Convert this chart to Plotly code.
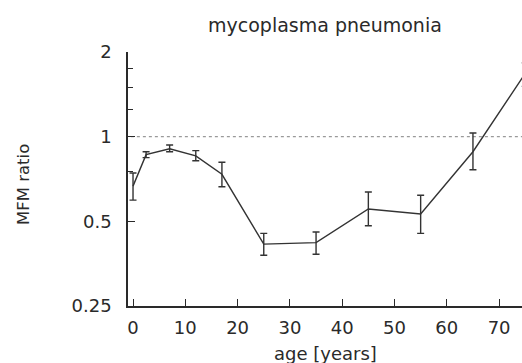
import plotly.graph_objects as go

ages = [0, 2.5, 7, 12, 17, 25, 35, 45, 55, 65, 75]
mfm_ratio = [0.667, 0.863, 0.906, 0.854, 0.735, 0.415, 0.420, 0.553, 0.531, 0.884, 1.68]
err_plus = [0.076, 0.021, 0.028, 0.038, 0.076, 0.038, 0.038, 0.083, 0.088, 0.146, 0.15]
err_minus = [0.072, 0.021, 0.022, 0.033, 0.071, 0.036, 0.038, 0.071, 0.078, 0.121, 0.17]

x_ticks = [0, 10, 20, 30, 40, 50, 60, 70]
y_ticks = [0.25, 0.5, 1, 2]
y_tick_labels = ["0.25", "0.5", "1", "2"]
y_minor_ticks = [0.75, 1.25, 1.5, 1.75]
reference_level = 1

title_text = "mycoplasma pneumonia"
x_title = "age [years]"
y_title = "MFM ratio"

FONT = "DejaVu Sans"
INK = "#2a2a2a"

fig = go.Figure()

fig.add_trace(go.Scatter(
    x=[-5, 80], y=[reference_level, reference_level], mode="lines",
    line=dict(color="#9a9a9a", width=1.2, dash="dot"),
    hoverinfo="skip", showlegend=False,
))

fig.add_trace(go.Scatter(
    x=ages, y=mfm_ratio, mode="lines",
    line=dict(color="#333333", width=1.4),
    error_y=dict(type="data", symmetric=False, array=err_plus, arrayminus=err_minus,
                 color="#333333", thickness=1.4, width=3.5),
    showlegend=False,
))

fig.update_layout(
    width=522, height=363,
    margin=dict(l=128, r=0, t=52, b=57, autoexpand=False),
    paper_bgcolor="white", plot_bgcolor="white",
    font=dict(family=FONT, size=18, color=INK),
    xaxis=dict(
        range=[-0.96, 74.38], tickvals=x_ticks, ticks="inside", ticklen=7,
        tickwidth=1.2, tickcolor=INK, showline=True, linecolor=INK, linewidth=1.5,
        showgrid=False, zeroline=False, tickfont=dict(size=18, family=FONT, color=INK),
        ticklabelstandoff=5,
    ),
    yaxis=dict(
        type="log", range=[-0.60206, 0.30103], tickvals=y_ticks, ticktext=y_tick_labels,
        ticks="inside", ticklen=7, tickwidth=1.2, tickcolor=INK,
        minor=dict(tickvals=y_minor_ticks, ticks="inside", ticklen=5, tickcolor=INK, tickwidth=1.2),
        showline=True, linecolor=INK, linewidth=1.5, showgrid=False, zeroline=False,
        tickfont=dict(size=18, family=FONT, color=INK), ticklabelstandoff=11,
    ),
    annotations=[
        dict(text=title_text, xref="paper", yref="paper", x=0.5, y=1, yshift=27,
             xanchor="center", yanchor="middle", showarrow=False,
             font=dict(size=19, family=FONT, color=INK)),
        dict(text=x_title, xref="paper", yref="paper", x=0.5, y=0, yshift=-47,
             xanchor="center", yanchor="middle", showarrow=False,
             font=dict(size=18, family=FONT, color=INK)),
        dict(text=y_title, xref="paper", yref="paper", x=0, xshift=-105, y=0.5, yshift=-6,
             xanchor="center", yanchor="middle", textangle=-90, showarrow=False,
             font=dict(size=16.5, family=FONT, color=INK)),
    ],
)

fig.write_html("out.html", config={"displayModeBar": False},
               post_script="document.body.style.margin='0';document.body.style.overflow='hidden';")
